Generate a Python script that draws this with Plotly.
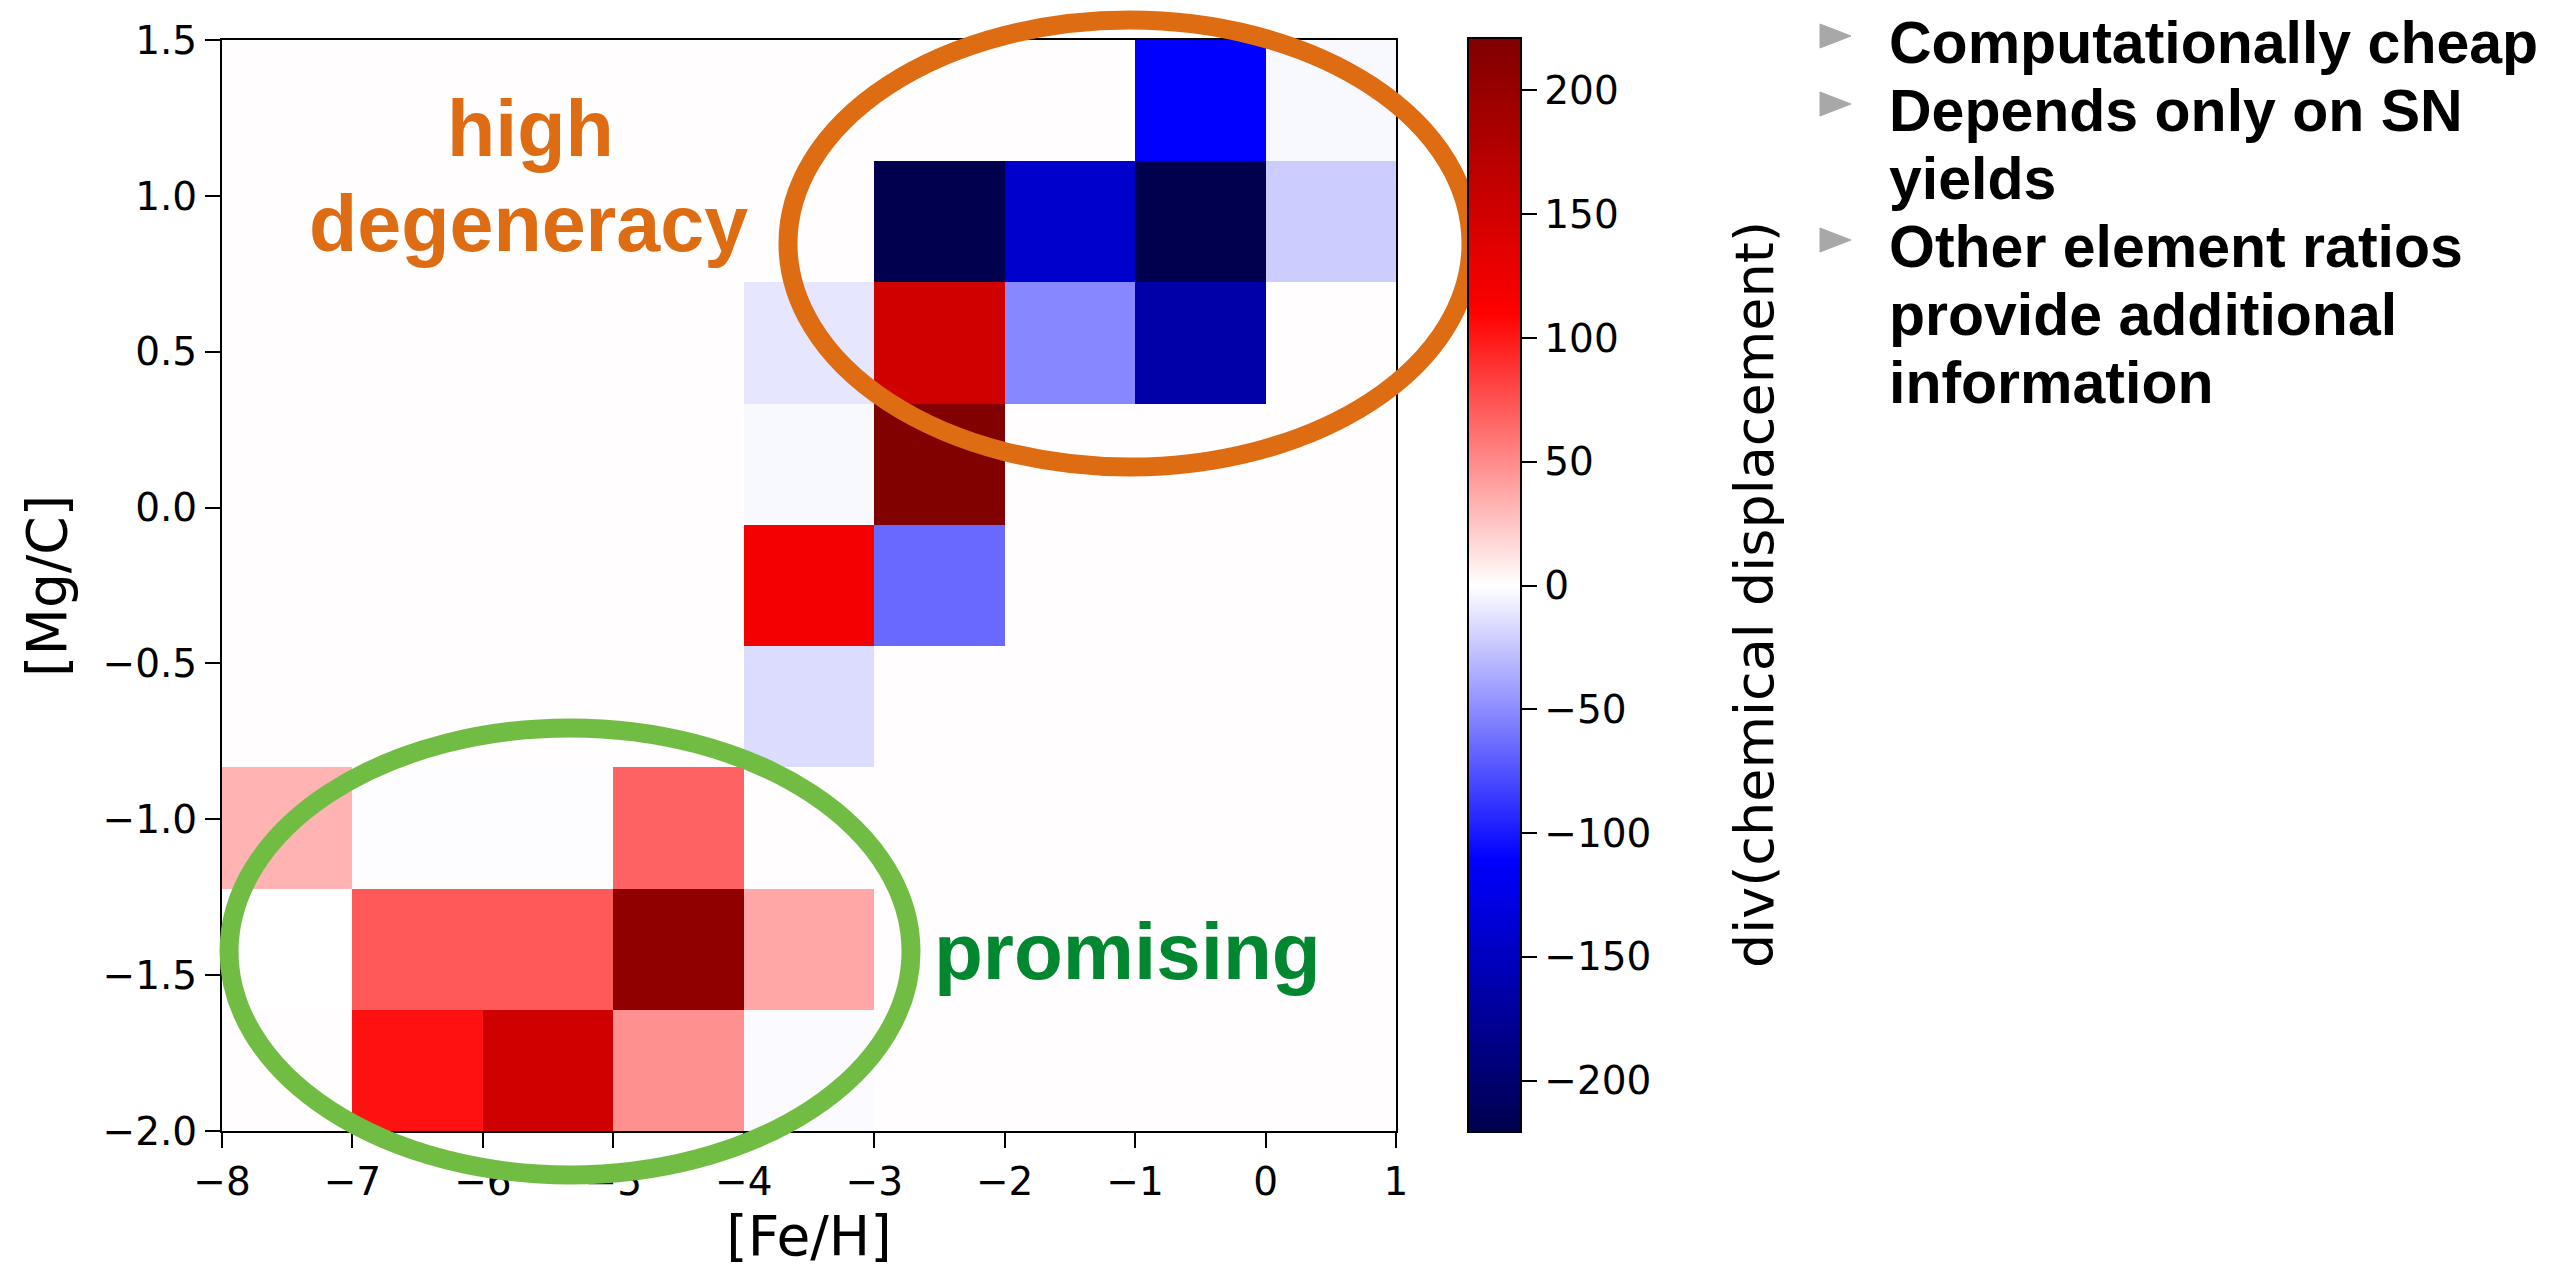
import plotly.graph_objects as go

# ---------------- data ----------------
feh_edges = [-8, -7, -6, -5, -4, -3, -2, -1, 0, 1]
mgc_edges = [-2.0, -1.611, -1.222, -0.833, -0.444, -0.056, 0.333, 0.722, 1.111, 1.5]

# div(chemical displacement); rows from bottom ([Mg/C] low) to top, columns [Fe/H] -8..1
row0 = [1, 103, 152, 48, -2, 1, 1, 1, 1]
row1 = [0, 72, 72, 206, 38, 1, 1, 1, 1]
row2 = [33, -1, -1, 68, 1, 1, 1, 1, 1]
row3 = [1, 1, 1, 1, -15, 1, 1, 1, 1]
row4 = [1, 1, 1, 1, 120, -65, 1, 1, 1]
row5 = [1, 1, 1, 1, -3, 220, 1, 1, 1]
row6 = [1, 1, 1, 1, -11, 152, -52, -164, 1]
row7 = [1, 1, 1, 1, 1, -220, -142, -220, -22]
row8 = [1, 1, 1, 1, 1, 1, 1, -111, -3]
z_values = [row0, row1, row2, row3, row4, row5, row6, row7, row8]

z_limit = 221
cbar_ticks = [-200, -150, -100, -50, 0, 50, 100, 150, 200]
x_ticks = [-8, -7, -6, -5, -4, -3, -2, -1, 0, 1]
y_ticks = [-2.0, -1.5, -1.0, -0.5, 0.0, 0.5, 1.0, 1.5]

bullets = [
    ("Computationally cheap", True),
    ("Depends only on SN", True),
    ("yields", False),
    ("Other element ratios", True),
    ("provide additional", False),
    ("information", False),
]

# ellipse outlines in data units (x0, x1, y0, y1)
orange_ellipse = (-3.661, 1.575, 0.130, 1.564)
green_ellipse = (-7.946, -2.718, -2.141, -0.707)

# ---------------- layout geometry ----------------
W, H = 2572, 1268
L, R, T, B = 222, 1396, 40, 1131
XMIN, XMAX = feh_edges[0], feh_edges[-1]
YMIN, YMAX = mgc_edges[0], mgc_edges[-1]


def px2paper(px, py):
    return (px - L) / (R - L), (B - py) / (B - T)


def dx(x):
    return (x - XMIN) / (XMAX - XMIN)


def dy(y):
    return (y - YMIN) / (YMAX - YMIN)


seismic = [
    [0.0, "rgb(0,0,77)"],
    [0.25, "rgb(0,0,255)"],
    [0.5, "rgb(255,255,255)"],
    [0.75, "rgb(255,0,0)"],
    [1.0, "rgb(128,0,0)"],
]

fig = go.Figure()
fig.add_trace(go.Heatmap(
    x=feh_edges, y=mgc_edges, z=z_values,
    colorscale=seismic, zmin=-z_limit, zmax=z_limit,
    colorbar=dict(
        x=(1468 - L) / (R - L), xanchor="left", xpad=0,
        y=0.5, yanchor="middle", len=1.003, lenmode="fraction", ypad=0,
        thickness=53, outlinewidth=2, outlinecolor="black",
        tickvals=cbar_ticks, ticks="outside", ticklen=15, tickwidth=2, tickcolor="black",
        tickfont=dict(family="DejaVu Sans", size=39, color="black"),
    ),
    hoverongaps=False,
))

axis_common = dict(
    showline=True, linewidth=2, linecolor="black", mirror=True,
    ticks="outside", ticklen=15, tickwidth=2, tickcolor="black",
    showgrid=False, zeroline=False, automargin=False,
    tickfont=dict(family="DejaVu Sans", size=39, color="black"),
)
fig.update_xaxes(range=[XMIN, XMAX], tickvals=x_ticks, **axis_common,
                 title=dict(text="[Fe/H]", font=dict(family="DejaVu Sans", size=55, color="black"), standoff=12))
fig.update_yaxes(range=[YMIN, YMAX], tickvals=y_ticks, tickformat=".1f", **axis_common)

shapes = []
for (x0, x1, y0, y1), col in [(orange_ellipse, "#DD6C13"), (green_ellipse, "#71BD44")]:
    shapes.append(dict(type="circle", xref="paper", yref="paper",
                       x0=dx(x0), x1=dx(x1), y0=dy(y0), y1=dy(y1),
                       line=dict(color=col, width=19), layer="above"))

annotations = []


def add_text(text, px, py, size, color, family, xanchor="center", angle=0):
    ax, ay = px2paper(px, py)
    annotations.append(dict(text=text, x=ax, y=ay, xref="paper", yref="paper",
                            xanchor=xanchor, yanchor="middle", showarrow=False,
                            textangle=angle,
                            font=dict(size=size, color=color, family=family)))


# y-axis title as rotated text
add_text("[Mg/C]", 47, 586, 55, "black", "DejaVu Sans", angle=-90)

bold = "Liberation Sans, Arial, sans-serif"
add_text("<b>high</b>", 530, 128, 79, "#DD6C13", bold)
add_text("<b>degeneracy</b>", 528, 224, 79, "#DD6C13", bold)
add_text("<b>promising</b>", 1127, 951, 80, "#00872F", bold)

# colorbar label as rotated text
add_text("div(chemical displacement)", 1754, 595, 54, "black", "DejaVu Sans", angle=-90)

base0, step = 43, 68
for i, (line, has_bullet) in enumerate(bullets):
    yc = base0 + i * step
    add_text("<b>" + line + "</b>", 1887, yc, 59, "black", bold, xanchor="left")
    if has_bullet:
        cy = 36 + i * step
        x0p, y0p = px2paper(1820, cy - 12)
        x1p, y1p = px2paper(1820, cy + 12)
        x2p, y2p = px2paper(1851, cy)
        shapes.append(dict(type="path", xref="paper", yref="paper",
                           path=f"M {x0p} {y0p} L {x1p} {y1p} L {x2p} {y2p} Z",
                           fillcolor="#A8A8A8", line=dict(color="#A8A8A8", width=1), layer="above"))

fig.update_layout(
    width=W, height=H,
    margin=dict(l=L, r=W - R, t=T, b=H - B, pad=0, autoexpand=False),
    paper_bgcolor="white", plot_bgcolor="white",
    shapes=shapes, annotations=annotations,
    font=dict(family="DejaVu Sans", color="black"),
)

fig.write_html("out.html", config={"displayModeBar": False},
               post_script="document.body.style.margin='0';document.body.style.overflow='hidden';")
